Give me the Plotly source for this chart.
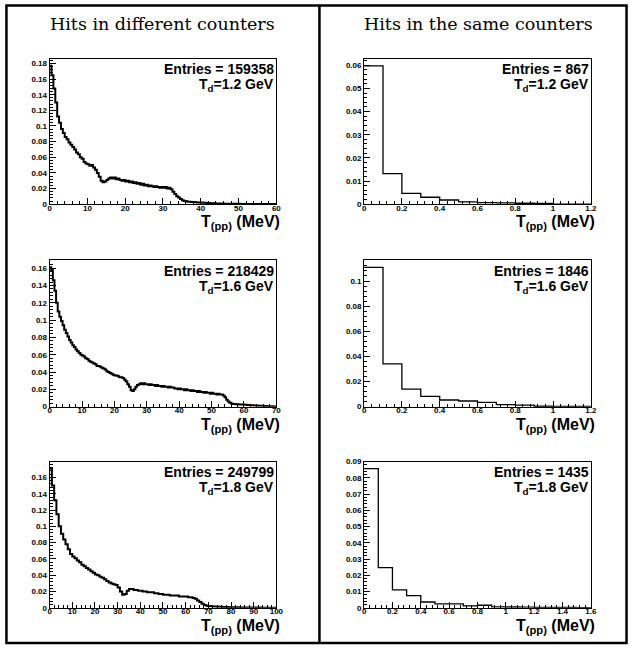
import plotly.graph_objects as go

W, H = 636, 650

# ---------------- data ----------------
# Left column: "Hits in different counters" (normalised counts per bin)
diff_bin_width = {"1.2": 0.5, "1.6": 0.5, "1.8": 1.0}
diff_12 = [
    0.177, 0.165, 0.148, 0.130, 0.112, 0.104, 0.096, 0.091, 0.086, 0.083,
    0.079, 0.076, 0.073, 0.070, 0.066, 0.064, 0.060, 0.058, 0.054, 0.052,
    0.051, 0.049, 0.050, 0.047, 0.044, 0.040, 0.035, 0.030, 0.028, 0.029,
    0.031, 0.033, 0.034, 0.033, 0.034, 0.032, 0.033, 0.031, 0.030, 0.031,
    0.029, 0.030, 0.028, 0.029, 0.027, 0.028, 0.026, 0.027, 0.025, 0.026,
    0.024, 0.025, 0.023, 0.024, 0.023, 0.022, 0.023, 0.022, 0.021, 0.022,
    0.021, 0.022, 0.020, 0.021, 0.019, 0.016, 0.013, 0.010, 0.0085, 0.0065,
    0.0050, 0.0042, 0.0036, 0.0032, 0.0030, 0.0028, 0.0027, 0.0025, 0.0023, 0.0022,
    0.0020, 0.0018, 0.0017, 0.0015, 0.0014, 0.0013, 0.0012, 0.0011, 0.0010, 0.0009,
    0.0008, 0.0008, 0.0007, 0.0007, 0.0006, 0.0006, 0.0005, 0.0005, 0.0004, 0.0004,
    0.0004, 0.0003, 0.0003, 0.0003, 0.0003, 0.0002, 0.0002, 0.0002, 0.0002, 0.0002,
    0.0002, 0.0001, 0.0001, 0.0001, 0.0001, 0.0001, 0.0001, 0.0001, 0.0001, 0.0001,
]
diff_16 = [
    0.161, 0.158, 0.146, 0.134, 0.120, 0.110, 0.104, 0.099, 0.094, 0.089,
    0.085, 0.081, 0.077, 0.074, 0.071, 0.069, 0.066, 0.064, 0.062, 0.060,
    0.059, 0.058, 0.056, 0.055, 0.053, 0.052, 0.051, 0.050, 0.049, 0.047,
    0.047, 0.046, 0.045, 0.044, 0.043, 0.041, 0.040, 0.039, 0.038, 0.037,
    0.036, 0.036, 0.035, 0.034, 0.034, 0.033, 0.031, 0.029, 0.026, 0.023,
    0.019, 0.018, 0.020, 0.023, 0.025, 0.026, 0.027, 0.026, 0.027, 0.026,
    0.026, 0.025, 0.026, 0.025, 0.025, 0.024, 0.025, 0.024, 0.024, 0.023,
    0.024, 0.023, 0.023, 0.022, 0.023, 0.022, 0.022, 0.021, 0.021, 0.020,
    0.021, 0.020, 0.020, 0.019, 0.020, 0.019, 0.019, 0.018, 0.019, 0.018,
    0.018, 0.017, 0.018, 0.017, 0.017, 0.016, 0.017, 0.016, 0.016, 0.015,
    0.016, 0.015, 0.015, 0.014, 0.015, 0.014, 0.014, 0.013, 0.011, 0.008,
    0.0060, 0.0045, 0.0036, 0.0032, 0.0030, 0.0028, 0.0027, 0.0026, 0.0025, 0.0024,
    0.0023, 0.0021, 0.0020, 0.0018, 0.0017, 0.0016, 0.0014, 0.0013, 0.0012, 0.0011,
    0.0010, 0.0009, 0.0008, 0.0007, 0.0006, 0.0005, 0.0005, 0.0004, 0.0003, 0.0003,
]
diff_18 = [
    0.171, 0.150, 0.132, 0.115, 0.100, 0.091, 0.084, 0.078, 0.072, 0.066,
    0.063, 0.061, 0.058, 0.056, 0.053, 0.051, 0.049, 0.047, 0.045, 0.043,
    0.041, 0.040, 0.038, 0.037, 0.035, 0.033, 0.031, 0.030, 0.029, 0.028,
    0.025, 0.020, 0.016, 0.017, 0.021, 0.023, 0.023, 0.022, 0.022, 0.021,
    0.021, 0.020, 0.020, 0.019, 0.019, 0.019, 0.018, 0.018, 0.017, 0.017,
    0.016, 0.016, 0.016, 0.015, 0.015, 0.015, 0.015, 0.014, 0.014, 0.014,
    0.014, 0.013, 0.013, 0.012, 0.011, 0.009, 0.007, 0.005, 0.0035, 0.0027,
    0.0022, 0.0019, 0.0017, 0.0015, 0.0013, 0.0012, 0.0011, 0.0010, 0.0009, 0.0008,
    0.0007, 0.0007, 0.0006, 0.0006, 0.0005, 0.0005, 0.0004, 0.0004, 0.0004, 0.0003,
    0.0003, 0.0003, 0.0003, 0.0002, 0.0002, 0.0002, 0.0002, 0.0001, 0.0001, 0.0001,
]

# Right column: "Hits in the same counters" (0.1 MeV bins)
same_bin_width = 0.1
same_12 = [0.0597, 0.0132, 0.0047, 0.0030, 0.0018, 0.0010, 0.0007, 0.0006, 0.0004, 0.0003, 0.0, 0.0]
same_16 = [0.1108, 0.0341, 0.0139, 0.0081, 0.0053, 0.0045, 0.0034, 0.0016, 0.0012, 0.0003, 0.0002, 0.0001]
same_18 = [0.0857, 0.0248, 0.0111, 0.0075, 0.0036, 0.0024, 0.0024, 0.0012, 0.0016, 0.0006,
           0.0005, 0.0004, 0.0003, 0.0003, 0.0002, 0.0001]

entries = {"d12": "159358", "d16": "218429", "d18": "249799",
           "s12": "867", "s16": "1846", "s18": "1435"}
col_titles = ["Hits in different counters", "Hits in the same counters"]
x_title = "T<sub>(pp)</sub> (MeV)"

# ---------------- layout geometry (pixels) ----------------
col_px = [(48.3, 278.3), (367.3, 597.3)]
row_px = [(55.5, 203.0), (260.0, 408.3), (464.0, 612.3)]


def X(px):
    return px / W


def Y(py):
    return 1 - py / H


panels = [
    (0, 0, diff_12, diff_bin_width["1.2"], 60, 0.186, 10, 0.02, "d12", "1.2"),
    (0, 1, same_12, same_bin_width, 1.2, 0.0628, 0.2, 0.01, "s12", "1.2"),
    (1, 0, diff_16, diff_bin_width["1.6"], 70, 0.169, 10, 0.02, "d16", "1.6"),
    (1, 1, same_16, same_bin_width, 1.2, 0.1164, 0.2, 0.02, "s16", "1.6"),
    (2, 0, diff_18, diff_bin_width["1.8"], 100, 0.1795, 10, 0.02, "d18", "1.8"),
    (2, 1, same_18, same_bin_width, 1.6, 0.09001, 0.2, 0.01, "s18", "1.8"),
]

fig = go.Figure()
tick_font = dict(family="Liberation Sans", size=8, color="black", weight="bold")
annotations = []

for i, (r, c, vals, bw, xmax, ymax, xdt, ydt, key, en) in enumerate(panels):
    n = i + 1
    xa = "x" if n == 1 else f"x{n}"
    ya = "y" if n == 1 else f"y{n}"
    edges = [k * bw for k in range(len(vals) + 1)]
    ys = list(vals) + [vals[-1]]
    lw = 2.0 if c == 0 else 1.3
    fig.add_trace(go.Scatter(x=edges, y=ys, mode="lines", line=dict(color="black", width=lw, shape="hv"),
                             xaxis=xa, yaxis=ya, showlegend=False, hoverinfo="skip"))
    x0, x1 = col_px[c]
    y0, y1 = row_px[r]
    axcommon = dict(showgrid=False, zeroline=False, showline=True, linecolor="black", linewidth=1,
                    ticks="inside", tickcolor="black", ticklen=6, tickwidth=1, tickfont=tick_font,
                    mirror=True, fixedrange=True)
    fig.layout[f"xaxis{n if n > 1 else ''}"] = dict(
        domain=[X(x0), X(x1)], range=[0, xmax], anchor=ya, dtick=xdt, tick0=0,
        ticklabelstandoff=-4,
        minor=dict(dtick=xdt / 5, ticklen=3, ticks="inside", tickcolor="black", showgrid=False),
        **axcommon)
    fig.layout[f"yaxis{n if n > 1 else ''}"] = dict(
        domain=[Y(y1), Y(y0)], range=[0, ymax], anchor=xa, dtick=ydt, tick0=0,
        minor=dict(dtick=ydt / 5, ticklen=3, ticks="inside", tickcolor="black", showgrid=False),
        **axcommon)
    stat_font = dict(family="Liberation Sans", size=14, color="black", weight="bold")
    annotations.append(dict(text=f"Entries = {entries[key]}", x=X(x1), y=Y(y0 + 10.5),
                            xref="paper", yref="paper", xanchor="right", yanchor="middle",
                            showarrow=False, font=stat_font))
    annotations.append(dict(text=f"T<sub>d</sub>={en} GeV", x=X(x1), y=Y(y0 + 27),
                            xref="paper", yref="paper", xanchor="right", yanchor="middle",
                            showarrow=False, font=stat_font))
    annotations.append(dict(text=x_title, x=X(x1 + 6), y=Y(y1 + 7),
                            xref="paper", yref="paper", xanchor="right", yanchor="top",
                            showarrow=False,
                            font=dict(family="Liberation Sans", size=16, color="black", weight="bold")))

for c, t in enumerate(col_titles):
    cx = [163, 483.5][c]
    annotations.append(dict(text=t, x=X(cx), y=Y(20), xref="paper", yref="paper",
                            xanchor="center", yanchor="middle", showarrow=False,
                            font=dict(family="DejaVu Serif", size=17.5, color="black")))

shapes = [
    dict(type="rect", xref="paper", yref="paper", x0=X(4.5), x1=X(633.5), y0=Y(648), y1=Y(1.5),
         line=dict(color="black", width=2.5)),
    dict(type="line", xref="paper", yref="paper", x0=X(322), x1=X(322), y0=Y(648), y1=Y(1.5),
         line=dict(color="black", width=2.5)),
]

fig.update_layout(width=W, height=H, margin=dict(l=0, r=0, t=0, b=0),
                  paper_bgcolor="white", plot_bgcolor="white",
                  annotations=annotations, shapes=shapes)

fig.write_html("out.html")
